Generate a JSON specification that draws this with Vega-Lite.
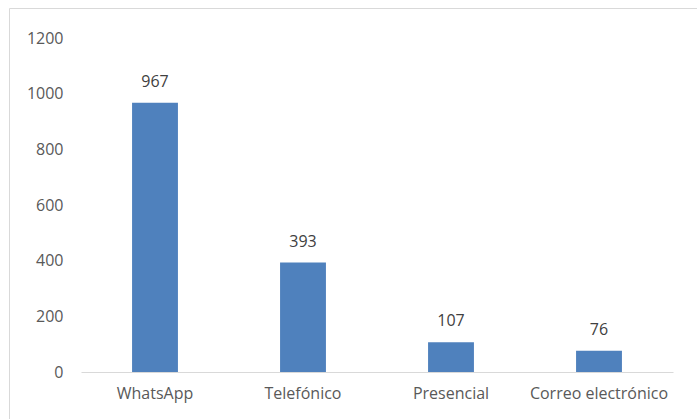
{
  "$schema": "https://vega.github.io/schema/vega-lite/v6.json",
  "width": 690,
  "height": 413,
  "autosize": "none",
  "padding": {"left": 9, "top": 8, "right": 0, "bottom": 0},
  "background": "white",
  "config": {
    "view": {"stroke": "#D9D9D9", "strokeWidth": 1},
    "font": "Open Sans"
  },
  "data": {
    "values": [
      {"canal": "WhatsApp", "valor": 967},
      {"canal": "Telefónico", "valor": 393},
      {"canal": "Presencial", "valor": 107},
      {"canal": "Correo electrónico", "valor": 76}
    ]
  },
  "encoding": {
    "x": {
      "field": "canal",
      "type": "nominal",
      "sort": null,
      "scale": {"range": [72, 664], "paddingInner": 0.69, "paddingOuter": 0.345},
      "axis": {
        "title": null,
        "labelAngle": 0,
        "offset": -49,
        "ticks": false,
        "domainColor": "#D9D9D9",
        "domainWidth": 1,
        "labelPadding": 13,
        "labelFontSize": 16,
        "labelColor": "#595959",
        "labelFont": "Open Sans"
      }
    },
    "y": {
      "field": "valor",
      "type": "quantitative",
      "scale": {"domain": [0, 1200], "range": [364, 30], "nice": false},
      "axis": {
        "title": null,
        "format": "d",
        "values": [0, 200, 400, 600, 800, 1000, 1200],
        "grid": false,
        "domain": false,
        "ticks": false,
        "offset": -56,
        "labelPadding": 2,
        "labelFontSize": 16,
        "labelColor": "#595959",
        "labelFont": "Open Sans"
      }
    }
  },
  "layer": [
    {"mark": {"type": "bar", "color": "#4F81BD"}},
    {
      "mark": {"type": "text", "baseline": "alphabetic", "dy": -16, "fontSize": 16, "color": "#404040", "font": "Open Sans"},
      "encoding": {"text": {"field": "valor", "type": "quantitative", "format": "d"}}
    }
  ]
}
